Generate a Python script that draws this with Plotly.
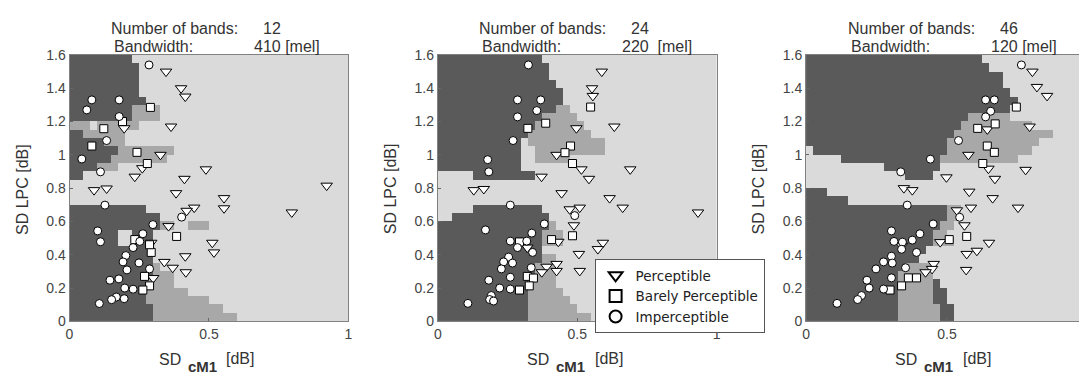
import re
import plotly.graph_objects as go

W, H = 1083, 383

# ---------------- data ----------------
band_counts = ["12", "24", "46"]
bandwidths = ["410 [mel]", "220  [mel]", "120 [mel]"]

# decision regions: run-length rows from y=1.6 (top) to y=0 (bottom), 40 columns of 0.025
# D = dark (Imperceptible), M = medium (Barely), L = light (Perceptible)
regions_12 = [
    "D9L31", "D10L30", "D10L30", "D10L30", "D10L30", "D11L29", "D9M4L27", "D9M4L27",
    "M3L1M6L30", "D2M6L32", "D5M3L32", "D7M8L25", "D6M8L26", "D4M3L33", "D2L38", "L40",
    "L40", "L40", "D11L29", "D13L27", "D13M2L2M3L20", "D7L2D3L28", "D7L2D3L28", "D12L28",
    "D12L28", "D12M1L27", "D12M3L25", "D11M4L25", "D11M6L23", "D11M9L20", "D12M10L18", "D12M12L16",
]
regions_24 = [
    "D15L25", "D16L24", "D16L24", "D17L23", "D18L22", "D18L22", "D17M2L21", "D15M5L20",
    "D14M7L19", "D13M9L18", "D12L1M11L16", "D12L2M10L16", "D12L2M5L21", "D12L28", "L5D9L26", "L40",
    "L40", "L40", "L5D10L25", "L2D14L24", "D16M1L23", "D15M3L22", "D15M3L22", "D15L25",
    "D15M2L23", "D14M3L23", "D14M3L23", "D13M4L23", "D13M5L22", "D13M6L21", "D13M7L20", "D13M9L18",
]
regions_46 = [
    "D25L15", "D26L14", "D28L12", "D28L12", "D29L11", "D30L10", "D29L11", "D23M6L11",
    "D22M10L8", "D21M14L5", "D20M13L7", "L1D19M12L8", "L5D14M11L10", "L11D8L21", "L14D4L22", "L40",
    "D3L37", "D6L34", "D20M2L18", "D20M2L18", "D19M2L19", "D18M2L20", "D18M3L19", "D17L23",
    "D16L24", "D14M4L22", "D13M5L22", "D13M5D1L21", "D13M5D2L20", "D13M5D2L20", "D13M6D2L19", "D13M6D2L19",
]

# ---- 12 bands ----
p12_x = [0.346, 0.40, 0.415, 0.196, 0.364, 0.326, 0.261, 0.489, 0.234, 0.412, 0.922, 0.088, 0.133, 0.382,
         0.554, 0.554, 0.797, 0.447, 0.42, 0.355, 0.293, 0.512, 0.518, 0.415, 0.34, 0.37, 0.417, 0.30]
p12_y = [1.50, 1.40, 1.35, 1.16, 1.17, 1.0, 0.92, 0.913, 0.869, 0.856, 0.815, 0.788, 0.798, 0.77,
         0.74, 0.679, 0.654, 0.683, 0.664, 0.572, 0.472, 0.472, 0.414, 0.391, 0.357, 0.322, 0.295, 0.26]
b12_x = [0.29, 0.19, 0.123, 0.08, 0.242, 0.279, 0.384, 0.234, 0.293, 0.287, 0.269, 0.287, 0.263]
b12_y = [1.285, 1.20, 1.157, 1.053, 1.015, 0.948, 0.51, 0.491, 0.414, 0.46, 0.27, 0.213, 0.188]
i12_x = [0.285, 0.08, 0.178, 0.062, 0.178, 0.133, 0.044, 0.111, 0.127, 0.402, 0.299, 0.101, 0.263, 0.111,
         0.252, 0.228, 0.202, 0.192, 0.249, 0.206, 0.287, 0.145, 0.177, 0.198, 0.228, 0.168, 0.196, 0.151, 0.107]
i12_y = [1.54, 1.33, 1.33, 1.27, 1.23, 1.086, 0.975, 0.898, 0.698, 0.626, 0.581, 0.543, 0.526, 0.478,
         0.48, 0.443, 0.395, 0.357, 0.351, 0.309, 0.315, 0.247, 0.255, 0.2, 0.193, 0.146, 0.136, 0.13, 0.107]

# ---- 24 bands ----
p24_x = [0.588, 0.553, 0.556, 0.497, 0.633, 0.426, 0.515, 0.69, 0.372, 0.542, 0.129, 0.165, 0.444, 0.616,
         0.663, 0.933, 0.473, 0.509, 0.488, 0.432, 0.321, 0.592, 0.574, 0.506, 0.509, 0.39, 0.426, 0.426, 0.373]
p24_y = [1.50, 1.40, 1.354, 1.16, 1.17, 1.0, 0.913, 0.913, 0.869, 0.856, 0.788, 0.795, 0.77, 0.74,
         0.683, 0.654, 0.673, 0.683, 0.577, 0.478, 0.443, 0.472, 0.434, 0.405, 0.303, 0.328, 0.345, 0.303, 0.295]
b24_x = [0.548, 0.387, 0.323, 0.476, 0.456, 0.483, 0.483, 0.408, 0.293, 0.321, 0.343, 0.328, 0.293]
b24_y = [1.287, 1.19, 1.159, 1.053, 1.013, 0.948, 0.514, 0.491, 0.477, 0.27, 0.26, 0.213, 0.188]
i24_x = [0.325, 0.286, 0.369, 0.355, 0.286, 0.27, 0.179, 0.183, 0.26, 0.491, 0.382, 0.171, 0.337, 0.26,
         0.319, 0.286, 0.34, 0.254, 0.236, 0.268, 0.228, 0.335, 0.26, 0.183, 0.222, 0.26, 0.192, 0.186, 0.2, 0.108]
i24_y = [1.54, 1.33, 1.33, 1.266, 1.228, 1.086, 0.971, 0.898, 0.698, 0.635, 0.585, 0.549, 0.53, 0.482,
         0.482, 0.443, 0.414, 0.386, 0.357, 0.35, 0.315, 0.322, 0.265, 0.247, 0.2, 0.194, 0.155, 0.131, 0.122, 0.108]

# ---- 46 bands ----
p46_x = [0.803, 0.819, 0.855, 0.643, 0.793, 0.576, 0.647, 0.779, 0.498, 0.67, 0.347, 0.377, 0.579, 0.662,
         0.752, 0.585, 0.535, 0.562, 0.476, 0.34, 0.649, 0.606, 0.57, 0.568, 0.453, 0.447, 0.424]
p46_y = [1.50, 1.408, 1.354, 1.153, 1.17, 1.0, 0.917, 0.91, 0.865, 0.856, 0.80, 0.788, 0.779, 0.74,
         0.683, 0.683, 0.667, 0.577, 0.476, 0.453, 0.472, 0.424, 0.405, 0.309, 0.345, 0.315, 0.295]
b46_x = [0.746, 0.671, 0.609, 0.643, 0.668, 0.627, 0.57, 0.508, 0.363, 0.392, 0.339, 0.298]
b46_y = [1.287, 1.186, 1.159, 1.053, 1.015, 0.948, 0.51, 0.491, 0.261, 0.261, 0.213, 0.188]
i46_x = [0.764, 0.637, 0.668, 0.655, 0.637, 0.541, 0.441, 0.336, 0.359, 0.545, 0.451, 0.303, 0.404, 0.312,
         0.342, 0.377, 0.339, 0.392, 0.303, 0.275, 0.306, 0.248, 0.353, 0.303, 0.216, 0.224, 0.275, 0.197, 0.183, 0.11]
i46_y = [1.54, 1.33, 1.33, 1.262, 1.228, 1.086, 0.974, 0.898, 0.698, 0.625, 0.585, 0.543, 0.526, 0.48,
         0.476, 0.488, 0.433, 0.414, 0.391, 0.357, 0.35, 0.315, 0.322, 0.261, 0.247, 0.2, 0.194, 0.155, 0.131, 0.108]

class_names = ["Perceptible", "Barely Perceptible", "Imperceptible"]
y_ticks = [0, 0.2, 0.4, 0.6, 0.8, 1.0, 1.2, 1.4, 1.6]
x_ticks = [0, 0.5, 1]

# ---------------- figure ----------------
DARK, MED, LIGHT = "#5a5a5a", "#a8a8a8", "#dadada"
colorscale = [[0, DARK], [0.33, DARK], [0.34, MED], [0.66, MED], [0.67, LIGHT], [1, LIGHT]]


def decode(rows):
    code = {"D": 0, "M": 1, "L": 2}
    z = []
    for r in rows:
        line = []
        for c, n in re.findall(r"([DML])(\d+)", r):
            line += [code[c]] * int(n)
        line = (line + [2] * 40)[:40]
        z.append(line)
    return z[::-1]


xc = [0.0125 + 0.025 * i for i in range(40)]
yc = [0.025 + 0.05 * j for j in range(32)]

panels = [
    dict(left=66, right=347, xmax=1.0, reg=regions_12,
         pts=[(p12_x, p12_y), (b12_x, b12_y), (i12_x, i12_y)]),
    dict(left=437, right=718, xmax=1.0, reg=regions_24,
         pts=[(p24_x, p24_y), (b24_x, b24_y), (i24_x, i24_y)]),
    dict(left=808, right=1083, xmax=(1083 - 808) / 284, reg=regions_46,
         pts=[(p46_x, p46_y), (b46_x, b46_y), (i46_x, i46_y)]),
]
symbols = ["triangle-down", "square", "circle"]
sizes = [10, 8, 8]

TOP, BOT = 49, 327
ydom = [1 - BOT / H, 1 - TOP / H]

fig = go.Figure()
layout = dict(
    width=W, height=H, margin=dict(l=0, r=0, t=0, b=0),
    paper_bgcolor="white", plot_bgcolor="white",
    font=dict(family="Liberation Sans, Arial, sans-serif", color="#333"),
    showlegend=True,
    legend=dict(x=595 / W, y=1 - 262 / H, xanchor="left", yanchor="top",
                bgcolor="white", bordercolor="#555", borderwidth=1,
                font=dict(family="DejaVu Sans", size=13.5, color="#222"),
                tracegroupgap=0, itemsizing="constant"),
)
annotations = []

for k, p in enumerate(panels):
    sfx = "" if k == 0 else str(k + 1)
    xa, ya = "x" + sfx, "y" + sfx
    fig.add_trace(go.Heatmap(x=xc, y=yc, z=decode(p["reg"]), colorscale=colorscale,
                             zmin=0, zmax=2, showscale=False, hoverinfo="skip",
                             xaxis=xa, yaxis=ya))
    for c in range(3):
        xs, ys = p["pts"][c]
        fig.add_trace(go.Scatter(
            x=xs, y=ys, mode="markers", name=class_names[c],
            marker=dict(symbol=symbols[c], size=sizes[c], color="white",
                        line=dict(color="black", width=1)),
            showlegend=(k == 1), xaxis=xa, yaxis=ya))
    last = k == 2
    layout["xaxis" + sfx] = dict(
        domain=[p["left"] / W, p["right"] / W], range=[0, p["xmax"]], anchor=ya,
        tickvals=x_ticks, ticktext=["0", "0.5", "1"], ticks="inside", ticklen=3,
        tickcolor="#666", showgrid=False, zeroline=False, showline=True,
        linecolor="#808080", linewidth=1, mirror=True,
        tickfont=dict(size=14, color="#444"))
    layout["yaxis" + sfx] = dict(
        domain=ydom, range=[0, 1.6], anchor=xa,
        tickvals=y_ticks, ticktext=["0", "0.2", "0.4", "0.6", "0.8", "1", "1.2", "1.4", "1.6"],
        ticks="inside", ticklen=3, tickcolor="#666",
        showgrid=False, zeroline=False, showline=True,
        linecolor="#808080", linewidth=1, mirror=(not last),
        tickfont=dict(size=14, color="#444"))

    L = p["left"]
    tf = dict(size=16, color="#333")
    # two-line panel title
    annotations += [
        dict(text="Number of bands:", x=(L + 40) / W, y=1 - 21 / H, xref="paper", yref="paper",
             xanchor="left", yanchor="middle", showarrow=False, font=tf),
        dict(text=band_counts[k], x=(L + 193) / W, y=1 - 21 / H, xref="paper", yref="paper",
             xanchor="left", yanchor="middle", showarrow=False, font=tf),
        dict(text="Bandwidth:", x=(L + 43) / W, y=1 - 40 / H, xref="paper", yref="paper",
             xanchor="left", yanchor="middle", showarrow=False, font=tf),
        dict(text=bandwidths[k], x=(L + 184) / W, y=1 - 40 / H, xref="paper", yref="paper",
             xanchor="left", yanchor="middle", showarrow=False, font=tf),
    ]
    # y label
    annotations.append(dict(text="SD LPC [dB]", x=(L - 48) / W, y=1 - 189 / H,
                            xref="paper", yref="paper", xanchor="center", yanchor="middle",
                            textangle=-90, showarrow=False, font=tf))
    # x label with subscript
    annotations += [
        dict(text="SD", x=(L + 114) / W, y=1 - 367 / H, xref="paper", yref="paper",
             xanchor="right", yanchor="middle", showarrow=False, font=tf),
        dict(text="<b>cM1</b>", x=(L + 117) / W, y=1 - 374 / H, xref="paper", yref="paper",
             xanchor="left", yanchor="middle", showarrow=False, font=dict(size=15, color="#333")),
        dict(text="[dB]", x=(L + 156) / W, y=1 - 366 / H, xref="paper", yref="paper",
             xanchor="left", yanchor="middle", showarrow=False, font=tf),
    ]

layout["annotations"] = annotations
fig.update_layout(**layout)
fig.write_html("out.html")
